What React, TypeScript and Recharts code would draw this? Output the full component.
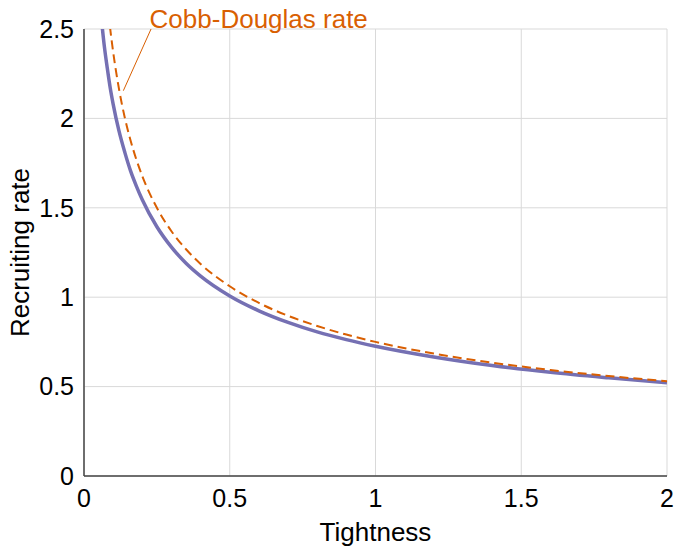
import React from 'react';
import {
  LineChart,
  Line,
  XAxis,
  YAxis,
  CartesianGrid,
  ReferenceLine,
  ReferenceDot,
} from 'recharts';

const tightness = [0.06, 0.07, 0.08, 0.09, 0.1, 0.12, 0.14, 0.16, 0.18, 0.2, 0.25, 0.3, 0.35, 0.4, 0.5, 0.6, 0.7, 0.8, 0.9, 1.0, 1.2, 1.4, 1.6, 1.8, 2.0];
const recruitingRate = [2.55, 2.4, 2.28, 2.17, 2.08, 1.93, 1.81, 1.705, 1.62, 1.545, 1.394, 1.28, 1.19, 1.118, 1.007, 0.924, 0.859, 0.806, 0.763, 0.726, 0.666, 0.618, 0.58, 0.549, 0.521];
const cobbDouglasRate = [3.06, 2.835, 2.652, 2.5, 2.372, 2.165, 2.004, 1.875, 1.768, 1.677, 1.5, 1.369, 1.268, 1.186, 1.061, 0.968, 0.896, 0.839, 0.791, 0.75, 0.685, 0.634, 0.593, 0.559, 0.53];
const xTicks = [0, 0.5, 1, 1.5, 2];
const yTicks = [0, 0.5, 1, 1.5, 2, 2.5];
const annotationText = 'Cobb-Douglas rate';
const annotationLine = [
  { x: 0.23, y: 2.5 },
  { x: 0.135, y: 2.155 },
];
const annotationAnchor = { x: 0.225, y: 2.5 };

const data = tightness.map((t, i) => ({
  t,
  rate: recruitingRate[i],
  cd: cobbDouglasRate[i],
}));

const FONT = '"Liberation Sans", Arial, Helvetica, sans-serif';
const PURPLE = '#7570B3';
const ORANGE = '#D95F02';
const fmt = (v: number) => String(v);

export default function App() {
  return (
    <div style={{ position: 'absolute', left: 0, top: 0, fontFamily: FONT }}>
      <LineChart
        width={677}
        height={549}
        data={data}
        margin={{ top: 29, right: 10, bottom: 0, left: 0 }}
      >
        <CartesianGrid stroke="#d9d9d9" strokeWidth={1} />
        <XAxis
          dataKey="t"
          type="number"
          domain={[0, 2]}
          ticks={xTicks}
          tickFormatter={fmt}
          height={73}
          tickLine={false}
          tickSize={6}
          tickMargin={7}
          axisLine={{ stroke: '#444', strokeWidth: 1.5 }}
          tick={{ fill: '#000', fontSize: 25, fontFamily: FONT }}
          label={{
            value: 'Tightness',
            position: 'insideBottom',
            offset: 8,
            style: { fill: '#000', fontSize: 26, fontFamily: FONT },
          }}
        />
        <YAxis
          type="number"
          domain={[0, 2.5]}
          ticks={yTicks}
          tickFormatter={fmt}
          allowDataOverflow
          width={84}
          tickLine={false}
          tickSize={6}
          tickMargin={4}
          axisLine={{ stroke: '#444', strokeWidth: 1.5 }}
          tick={{ fill: '#000', fontSize: 25, fontFamily: FONT }}
          label={{
            value: 'Recruiting rate',
            angle: -90,
            position: 'insideLeft',
            offset: 20,
            style: { fill: '#000', fontSize: 26, fontFamily: FONT, textAnchor: 'middle' },
          }}
        />
        <Line
          type="monotone"
          dataKey="rate"
          stroke={PURPLE}
          strokeWidth={3.5}
          dot={false}
          activeDot={false}
          isAnimationActive={false}
        />
        <Line
          type="monotone"
          dataKey="cd"
          stroke={ORANGE}
          strokeWidth={2}
          strokeDasharray="9 5"
          dot={false}
          activeDot={false}
          isAnimationActive={false}
        />
        <ReferenceLine
          segment={annotationLine}
          stroke={ORANGE}
          strokeWidth={1}
          ifOverflow="visible"
        />
        <ReferenceDot
          x={annotationAnchor.x}
          y={annotationAnchor.y}
          r={0}
          ifOverflow="visible"
          shape={(props: any) => (
            <text
              x={props.cx}
              y={props.cy - 1}
              fill={ORANGE}
              fontSize={26}
              fontFamily={FONT}
            >
              {annotationText}
            </text>
          )}
        />
      </LineChart>
    </div>
  );
}
